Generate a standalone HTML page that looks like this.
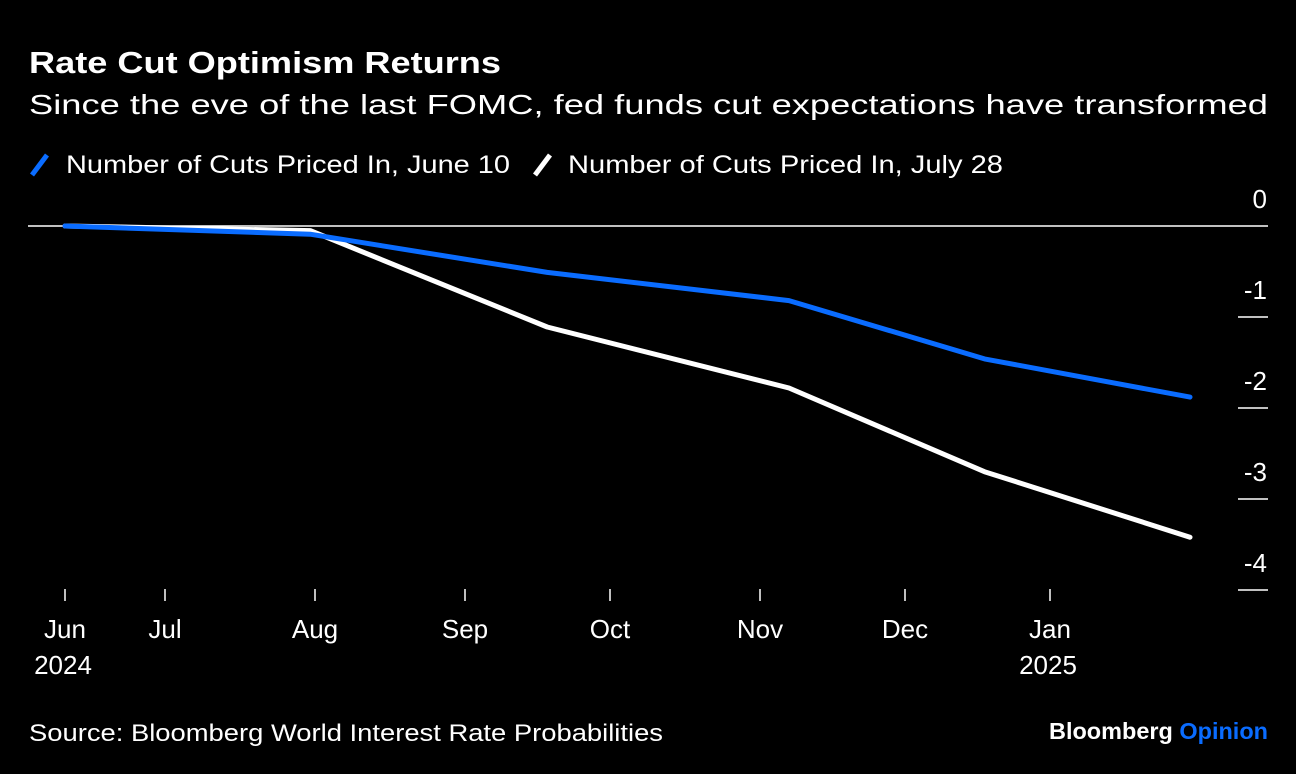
<!DOCTYPE html>
<html><head><meta charset="utf-8"><style>
body{margin:0;background:#000;width:1296px;height:774px;overflow:hidden;font-family:"Liberation Sans",sans-serif;color:#fff}
</style></head><body>
<svg width="1296" height="774" style="position:absolute;left:0;top:0">
<text x="29" y="73" font-size="31" font-weight="bold" fill="#fff" textLength="472" lengthAdjust="spacingAndGlyphs">Rate Cut Optimism Returns</text>
<text x="29" y="114" font-size="28" fill="#fff" textLength="1239" lengthAdjust="spacingAndGlyphs">Since the eve of the last FOMC, fed funds cut expectations have transformed</text>
<g>
<line x1="32" y1="175" x2="47" y2="155" stroke="#0a6cff" stroke-width="5"/>
<text x="66" y="173" font-size="25" fill="#fff" textLength="444" lengthAdjust="spacingAndGlyphs">Number of Cuts Priced In, June 10</text>
<line x1="535" y1="175" x2="550" y2="155" stroke="#fff" stroke-width="5"/>
<text x="568" y="173" font-size="25" fill="#fff" textLength="435" lengthAdjust="spacingAndGlyphs">Number of Cuts Priced In, July 28</text>
</g>
<g id="axes"></g>
<g id="series"></g>
<text x="29" y="741" font-size="24" fill="#fff" textLength="634" lengthAdjust="spacingAndGlyphs">Source: Bloomberg World Interest Rate Probabilities</text>
<text x="1049" y="739" font-size="23" font-weight="bold" fill="#fff" textLength="219" lengthAdjust="spacingAndGlyphs">Bloomberg <tspan fill="#0a6cff">Opinion</tspan></text>
</svg>
<script>
const tickMonths=["Jun","Jul","Aug","Sep","Oct","Nov","Dec","Jan"];
const tickYears=["2024","","","","","","","2025"];
const yTicks=[0,-1,-2,-3,-4];
const pointDates=["2024-06-01","2024-07-31","2024-09-18","2024-11-07","2024-12-18","2025-02-01"];
const june10=[0,-0.09,-0.51,-0.82,-1.46,-1.88];
const july28=[0,-0.05,-1.11,-1.78,-2.70,-3.42];
const tickDates=["2024-06-01","2024-07-01","2024-08-01","2024-09-01","2024-10-01","2024-11-01","2024-12-01","2025-01-01","2025-02-01"];
const tickPx=[65,165,315,465,610,760,905,1050,1190];
const NS="http://www.w3.org/2000/svg";
function xs(d){const t=Date.parse(d);for(let i=0;i<tickDates.length-1;i++){const a=Date.parse(tickDates[i]),b=Date.parse(tickDates[i+1]);if(t<=b||i==tickDates.length-2){return tickPx[i]+(t-a)/(b-a)*(tickPx[i+1]-tickPx[i]);}}}
function ys(v){return 226-v*91;}
function mk(tag,attrs,parent){const e=document.createElementNS(NS,tag);for(const k in attrs)e.setAttribute(k,attrs[k]);parent.appendChild(e);return e;}
const ax=document.getElementById('axes');
yTicks.forEach((v,i)=>{
 let l;
 if(v===0){l=mk('line',{x1:28,x2:1268,y1:ys(v),y2:ys(v),stroke:'#fff','stroke-width':1.5},ax);}
 else{l=mk('line',{x1:1238,x2:1268,y1:ys(v),y2:ys(v),stroke:'#fff','stroke-width':1.5},ax);}
 
 
 const t=mk('text',{x:1267,y:ys(v)-18,'font-size':26,fill:'#fff','text-anchor':'end'},ax);
 t.textContent=String(v);
 
 
});
tickMonths.forEach((m,i)=>{
 const x=xs(tickDates[i]);
 const l=mk('line',{x1:x,x2:x,y1:589,y2:601,stroke:'#fff','stroke-width':1.5},ax);
 
 
 const t=mk('text',{x:x,y:638,'font-size':26,fill:'#fff','text-anchor':'middle'},ax);
 t.textContent=m;
 
 
 if(tickYears[i]){const y=mk('text',{x:x-2,y:674,'font-size':26,fill:'#fff','text-anchor':'middle'},ax);
 y.textContent=tickYears[i];
 
 }
});
const se=document.getElementById('series');
[[july28,'#fff','line-july28'],[june10,'#0a6cff','line-june10']].forEach(([vals,c,n])=>{
 const pts=vals.map((v,i)=>xs(pointDates[i]).toFixed(1)+','+ys(v).toFixed(1)).join(' ');
 const p=mk('polyline',{points:pts,fill:'none',stroke:c,'stroke-width':5,'stroke-linejoin':'round','stroke-linecap':'round'},se);
 
 
});
</script>
</body></html>
